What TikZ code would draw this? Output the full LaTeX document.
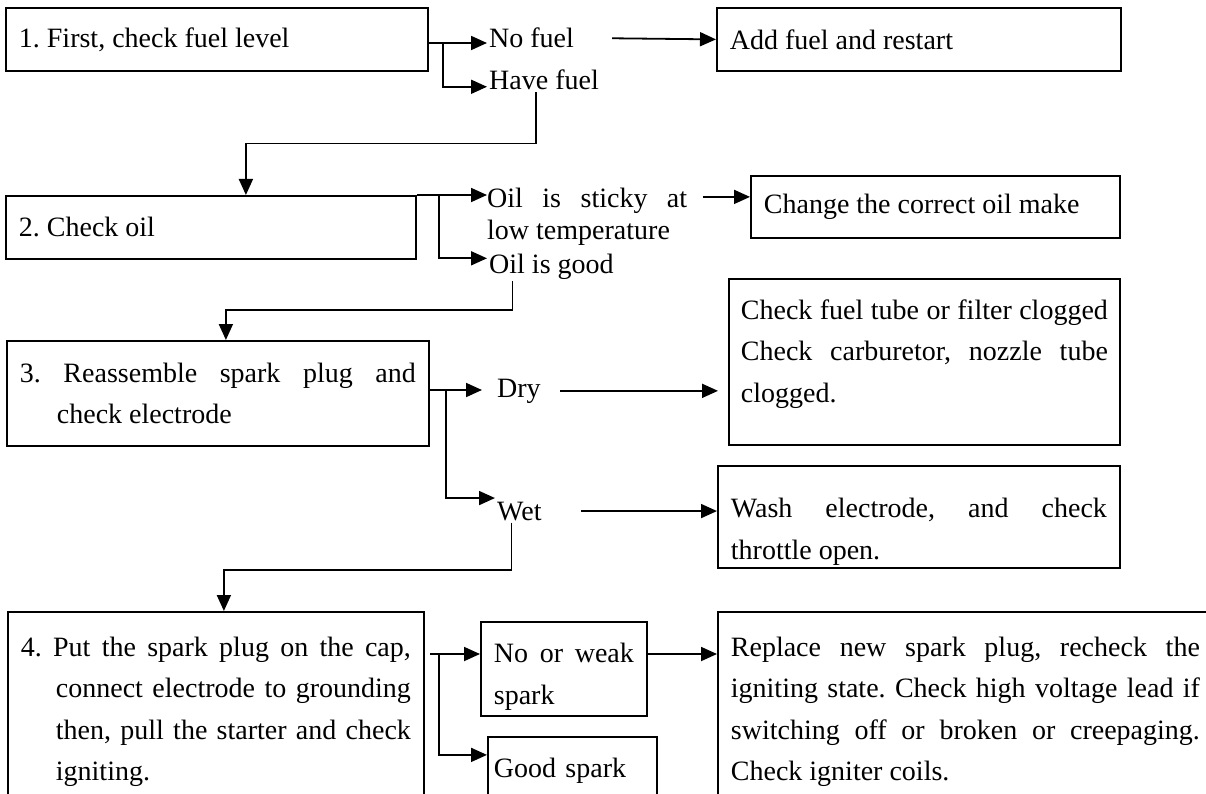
\documentclass[tikz,border=0pt]{standalone}
\usepackage{fontspec}
\setmainfont{Liberation Serif}
\usetikzlibrary{arrows.meta}
\frenchspacing

\newcommand\chartfont{\fontsize{28pt}{41.5pt}\selectfont}
\newcommand\tightfont{\fontsize{28pt}{32pt}\selectfont}

\begin{document}
\begin{tikzpicture}[
    x=1pt, y=-1pt,
    >={Triangle[length=16pt,width=14pt]},
    box/.style={
        draw=black,
        line width=1.8pt,
        anchor=north west,
        inner xsep=13pt,
        inner ysep=0pt,
        align=justify,
        font=\chartfont
    },
    lbl/.style={
        anchor=base west,
        inner sep=2pt,
        font=\chartfont
    },
    arr/.style={->, line width=1.8pt, draw=black}
]
    \useasboundingbox (0,0) rectangle (1206,794);
    \clip (0,0) rectangle (1206,794);

    \node[box, minimum width=422pt, minimum height=63pt, text width=396pt]
        (fuelchk) at (5,7) {1. First, check fuel level};
    \node[lbl] (nofuel) at (487,48) {No fuel};
    \node[lbl] (havefuel) at (487,90) {Have fuel};
    \node[box, minimum width=404pt, minimum height=63pt, text width=378pt]
        (addfuel) at (716,7) {Add fuel and restart};

    \coordinate (fj) at (443,43);
    \draw[arr] (fuelchk.east |- fj) -- (fj -| nofuel.west);
    \draw[arr] (fj) |- ([yshift=-6.5pt]havefuel.west);
    \draw[arr] ([xshift=36pt]nofuel.east) -- (addfuel.west);

    \node[box, minimum width=410pt, minimum height=63pt, text width=384pt]
        (oilchk) at (5,195) {2. Check oil};
    \node[anchor=north west, inner sep=0pt, text width=200pt, align=justify,
        font=\tightfont]
        (oilsticky) at (487,188) {Oil is sticky at\linebreak low temperature};
    \node[lbl] (oilgood) at (487,273) {Oil is good};
    \node[box, minimum width=369pt, minimum height=62pt, text width=343pt]
        (chgoil) at (750,175) {Change the correct oil make};

    \draw[arr] ([xshift=-8pt]havefuel.south) -- ++(0,51) -| ([xshift=35pt]oilchk.north);
    \coordinate (oj) at (439,195);
    \draw[arr] (oilchk.north east) -- (oilchk.north east -| oilsticky.west);
    \draw[arr] (oj) |- ([yshift=8pt]oilgood.west);
    \draw[arr] ([xshift=-47pt,yshift=10pt]chgoil.west) -- ([yshift=10pt]chgoil.west);

    \node[box, minimum width=422pt, minimum height=105pt, text width=396pt]
        (plugchk) at (6,340)
        {\hangindent=37pt\hangafter=1\relax 3. Reassemble spark plug and\linebreak check electrode\par};
    \node[lbl] (dry) at (495,397) {Dry};
    \node[lbl] (wet) at (495,520) {Wet};
    \node[box, inner xsep=12pt, minimum width=391pt, minimum height=166pt, text width=367pt]
        (fuelclog) at (728,278)
        {Check fuel tube or filter clogged\linebreak Check carburetor, nozzle tube\linebreak clogged.\rule[-22pt]{0pt}{22pt}};
    \node[box, minimum width=402pt, minimum height=102pt, text width=376pt]
        (washel) at (717,465) {\rule{0pt}{49pt}Wash electrode, and check\linebreak throttle open.};

    \draw[arr] ([xshift=-39pt]oilgood.south) -- ++(0,29) -| ([xshift=8pt]plugchk.north);
    \coordinate (pj) at (446,390);
    \draw[arr, shorten >=13pt] (plugchk.east |- pj) -- (pj -| dry.west);
    \draw[arr] (pj) |- ([yshift=13pt]wet.west);
    \draw[arr, shorten >=10pt] ([xshift=17pt]dry.east) -- (dry.east -| fuelclog.west);
    \draw[arr] ([xshift=37pt]wet.east) -- (wet.east -| washel.west);

    \node[box, minimum width=416pt, minimum height=200pt, text width=390pt]
        (sparkchk) at (7,611)
        {\hangindent=35pt\hangafter=1\relax 4. Put the spark plug on the cap,\linebreak
         connect electrode to grounding\linebreak then, pull the starter and check\linebreak igniting.\par};
    \node[box, minimum width=166pt, minimum height=94pt, text width=140pt]
        (weak) at (480,621) {\rule{0pt}{35pt}No or weak\linebreak spark};
    \node[box, inner xsep=6pt, align=left, minimum width=169pt, minimum height=68pt, text width=157pt]
        (goodspk) at (487,736) {Good spark};
    \node[box, minimum width=495pt, minimum height=200pt, text width=469pt]
        (replug) at (717,611)
        {Replace new spark plug, recheck the\linebreak igniting state. Check high voltage lead if\linebreak switching off or broken or creepaging.\linebreak Check igniter coils.};

    \draw[arr] ([xshift=-8pt]wet.south) -- ++(0,47) -| ([xshift=8pt]sparkchk.north);
    \coordinate (sa) at (430,654);
    \coordinate (sj) at (439,654);
    \draw[arr] (sa) -- (sa -| weak.west);
    \draw[arr] (sj) |- ([yshift=16pt]goodspk.west);
    \draw[arr] (sa -| weak.east) -- (sa -| replug.west);
\end{tikzpicture}
\end{document}
